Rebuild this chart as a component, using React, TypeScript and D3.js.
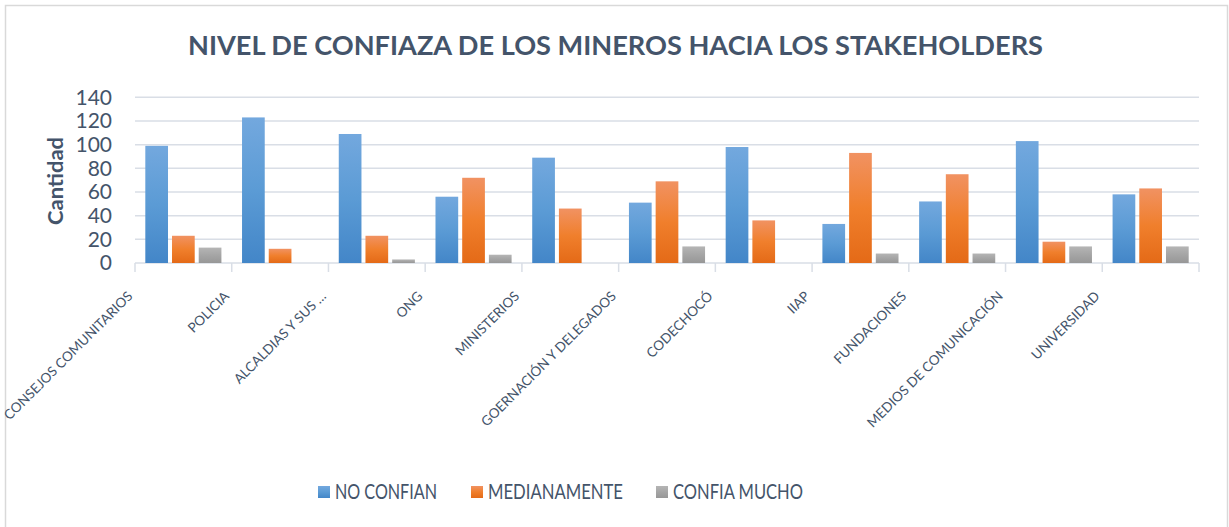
import * as d3 from 'd3'

const categories = [
  'CONSEJOS COMUNITARIOS',
  'POLICIA',
  'ALCALDIAS  Y SUS  …',
  'ONG',
  'MINISTERIOS',
  'GOERNACIÓN Y DELEGADOS',
  'CODECHOCÓ',
  'IIAP',
  'FUNDACIONES',
  'MEDIOS DE COMUNICACIÓN',
  'UNIVERSIDAD',
]
const noConfian = [99, 123, 109, 56, 89, 51, 98, 33, 52, 103, 58]
const medianamente = [23, 12, 23, 72, 46, 69, 36, 93, 75, 18, 63]
const confiaMucho = [13, 0, 3, 7, 0, 14, 0, 8, 8, 14, 14]
const seriesNames = ['NO CONFIAN', 'MEDIANAMENTE', 'CONFIA MUCHO']
const yTicks = [0, 20, 40, 60, 80, 100, 120, 140]

const W = 1229
const H = 527
const TEXT = '#44546A'
const GRID = '#D9DEE6'
const FONT = 'Lato, "Open Sans", sans-serif'

// [light top, base, dark bottom]
const gradients = [
  ['#73A8DE', '#5B9BD5', '#4386C8'],
  ['#F19262', '#F07F2C', '#E46A17'],
  ['#B5B5B5', '#A5A5A5', '#979797'],
]

export default function App() {
  const margin = { left: 135, right: W - 1199, top: 97.3, bottom: H - 263 }
  const series = [noConfian, medianamente, confiaMucho]

  const x0 = d3.scaleBand<string>().domain(categories).range([margin.left, W - margin.right]).padding(0)
  const x1 = d3
    .scaleBand<number>()
    .domain([0, 1, 2])
    .range([0, x0.bandwidth()])
    .paddingInner(0.15)
    .paddingOuter(0.386)
  const y = d3.scaleLinear().domain([0, 140]).range([263, 97.3])

  // legend layout
  const legendX = [318, 471, 656]
  const legendW = [102, 135, 130]

  return (
    <svg
      width={W}
      height={H}
      style={{ position: 'fixed', left: 0, top: 0, background: '#fff', fontFamily: FONT }}
    >
      <defs>
        {gradients.map((g, i) => (
          <linearGradient key={i} id={`grad${i}`} x1="0" y1="0" x2="0" y2="1">
            <stop offset="0%" stopColor={g[0]} />
            <stop offset="50%" stopColor={g[1]} />
            <stop offset="100%" stopColor={g[2]} />
          </linearGradient>
        ))}
      </defs>
      <rect x={5.5} y={5.5} width={1222} height={H + 10} fill="#fff" stroke="#D9D9D9" strokeWidth={1.5} />

      <text
        x={615.5}
        y={55}
        textAnchor="middle"
        fontSize={27}
        fontWeight={700}
        fill={TEXT}
        textLength={855}
        lengthAdjust="spacingAndGlyphs"
      >
        NIVEL DE CONFIAZA DE LOS MINEROS HACIA LOS STAKEHOLDERS
      </text>

      {/* gridlines */}
      {yTicks.map((t) => (
        <g key={t}>
          <line x1={margin.left} x2={W - margin.right} y1={y(t)} y2={y(t)} stroke={GRID} strokeWidth={1.5} />
          <text x={112} y={y(t)} dy="0.35em" textAnchor="end" fontSize={21} fill={TEXT}>
            {t}
          </text>
        </g>
      ))}

      {/* category ticks */}
      {categories.map((c) => (
        <line key={c} x1={x0(c)!} x2={x0(c)!} y1={y(0)} y2={y(0) + 9} stroke={GRID} strokeWidth={1.5} />
      ))}
      <line x1={W - margin.right} x2={W - margin.right} y1={y(0)} y2={y(0) + 9} stroke={GRID} strokeWidth={1.5} />

      {/* bars */}
      {categories.map((c, ci) => (
        <g key={c} transform={`translate(${x0(c)},0)`}>
          {series.map((s, si) =>
            s[ci] > 0 ? (
              <rect
                key={si}
                x={x1(si)!}
                y={y(s[ci])}
                width={x1.bandwidth()}
                height={y(0) - y(s[ci])}
                fill={`url(#grad${si})`}
              />
            ) : null
          )}
        </g>
      ))}

      {/* category labels */}
      {categories.map((c) => (
        <text
          key={c}
          transform={`translate(${x0(c)! + x0.bandwidth() / 2 - 50},297) rotate(-45)`}
          textAnchor="end"
          fontSize={13.5}
          fill={TEXT}
        >
          {c}
        </text>
      ))}

      <text
        transform={`translate(63,181) rotate(-90)`}
        textAnchor="middle"
        fontSize={21}
        fontWeight={700}
        fill={TEXT}
        textLength={88}
        lengthAdjust="spacingAndGlyphs"
      >
        Cantidad
      </text>

      {/* legend */}
      {seriesNames.map((n, i) => (
        <g key={n} transform={`translate(${legendX[i]},486)`}>
          <rect width={12} height={12} fill={`url(#grad${i})`} />
          <text
            x={17}
            y={13}
            fontSize={20.5}
            fill={TEXT}
            textLength={legendW[i]}
            lengthAdjust="spacingAndGlyphs"
          >
            {n}
          </text>
        </g>
      ))}
    </svg>
  )
}
